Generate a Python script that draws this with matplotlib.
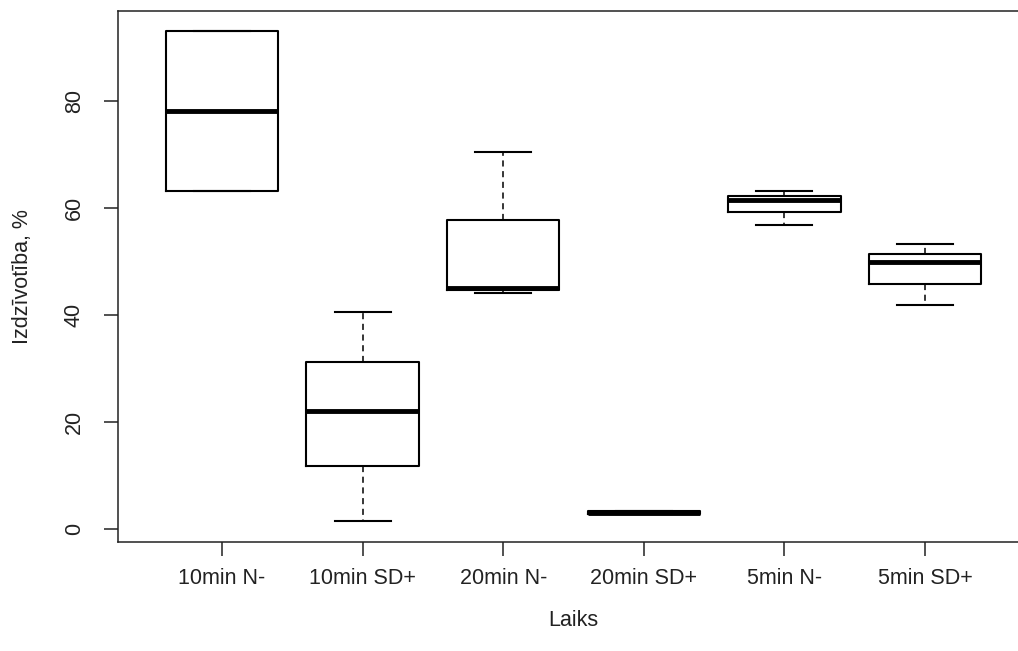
import matplotlib
matplotlib.use('Agg')
import matplotlib.pyplot as plt

groups = ['10min N-', '10min SD+', '20min N-', '20min SD+', '5min N-', '5min SD+']
whislo = [63.2, 1.4, 44.0, 2.7, 56.8, 41.9]
q1 = [63.2, 11.8, 44.6, 2.7, 59.2, 45.7]
med = [78.1, 22.1, 45.0, 3.0, 61.5, 49.8]
q3 = [93.1, 31.2, 57.7, 3.3, 62.3, 51.4]
whishi = [93.1, 40.5, 70.4, 3.3, 63.2, 53.3]

plt.rcParams['font.family'] = ['Liberation Sans', 'DejaVu Sans']

stats = []
for i in range(len(groups)):
    stats.append({'label': groups[i], 'whislo': whislo[i], 'q1': q1[i], 'med': med[i],
                  'q3': q3[i], 'whishi': whishi[i], 'fliers': []})

fig = plt.figure(figsize=(10.18, 6.51), dpi=100)
ax = fig.add_axes([118/1018, 109/651, (1029-118)/1018, (542-11)/651])

ax.bxp(stats, positions=range(1, 7), widths=0.8, capwidths=0.4,
       boxprops=dict(color='black', linewidth=1.5),
       medianprops=dict(color='black', linewidth=3.5, solid_capstyle='butt'),
       whiskerprops=dict(color='black', linewidth=1.1, linestyle=(0, (4, 3))),
       capprops=dict(color='black', linewidth=1.5))

ax.set_xlim(0.26, 6.74)
ax.set_ylim(-2.45, 96.8)
ax.set_yticks([0, 20, 40, 60, 80])
ax.set_yticklabels(['0', '20', '40', '60', '80'], rotation=90, va='center')
ax.set_xticks(range(1, 7))
ax.set_xticklabels(groups)

for s in ax.spines.values():
    s.set_linewidth(1.1)
    s.set_color('#222222')
ax.tick_params(axis='both', length=10, width=1.1, color='#222222',
               labelsize=15.5, labelcolor='#222222')
ax.tick_params(axis='x', pad=9)
ax.tick_params(axis='y', pad=14)

ax.set_xlabel('Laiks', fontsize=15.5, color='#222222', labelpad=15)
ax.set_ylabel('Izdzīvotība, %', fontsize=15.5, color='#222222', labelpad=22)

fig.savefig('out.png', dpi=100)
